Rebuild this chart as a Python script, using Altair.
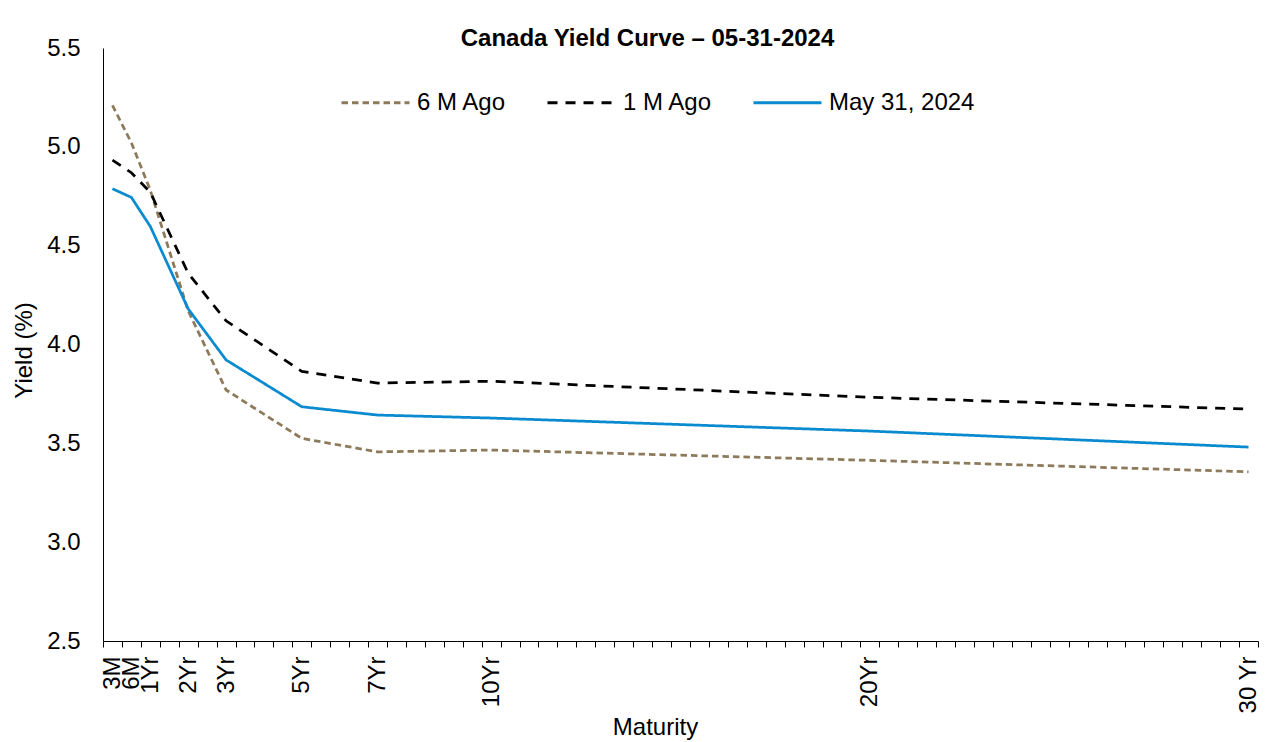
import altair as alt
import pandas as pd

# ---- data ----
maturities = ["3M", "6M", "1Yr", "2Yr", "3Yr", "5Yr", "7Yr", "10Yr", "20Yr", "30 Yr"]
# index on the half-year category axis (61 categories, 3M first)
slots = [0, 1, 2, 4, 6, 10, 14, 20, 40, 60]
n_slots = 61
series_names = ["6 M Ago", "1 M Ago", "May 31, 2024"]
six_m_ago = [5.21, 5.02, 4.78, 4.17, 3.77, 3.525, 3.457, 3.466, 3.414, 3.356]
one_m_ago = [4.933, 4.869, 4.77, 4.36, 4.12, 3.864, 3.805, 3.814, 3.733, 3.673]
may_31_2024 = [4.788, 4.744, 4.597, 4.18, 3.922, 3.685, 3.643, 3.628, 3.562, 3.481]
y_ticks = [2.5, 3.0, 3.5, 4.0, 4.5, 5.0, 5.5]

colors = ["#8C7A5B", "#000000", "#0A8BCF"]
dashes = [[6.5, 4], [10, 8], [1, 0]]
FONT = "Liberation Sans"

rows = []
for name, vals in zip(series_names, [six_m_ago, one_m_ago, may_31_2024]):
    for m, s, v in zip(maturities, slots, vals):
        rows.append({"Series": name, "Maturity": m, "slot": s, "Yield": v})
df = pd.DataFrame(rows)

# tick marks sit on category boundaries; labels are shifted to category centres
boundaries = [i - 0.5 for i in range(n_slots + 1)]
expr = "''"
for m, s in reversed(list(zip(maturities, slots))):
    expr = f"datum.value == {s - 0.5} ? '{m}' : ({expr})"

legend_kw = dict(
    title=None, orient="none", legendX=237, legendY=19, direction="horizontal",
    symbolType="stroke", symbolSize=4624, symbolStrokeWidth=3,
    labelFontSize=24, labelFont=FONT, labelColor="black",
    columnPadding=34, labelOffset=6, padding=0,
)

chart = alt.Chart(df).mark_line(strokeWidth=2.75).encode(
    x=alt.X(
        "slot:Q",
        scale=alt.Scale(domain=[-0.5, n_slots - 0.5], nice=False, zero=False),
        axis=alt.Axis(
            title="Maturity", values=boundaries, labelExpr=expr,
            labelAngle=-90, labelAlign="right", labelBaseline="middle",
            labelOffset=9.47, labelPadding=9, tickSize=6, ticks=True,
            tickColor="black", domainColor="black", grid=False,
            labelOverlap=False, labelFlush=False, labelBound=False,
            labelFontSize=24, labelFont=FONT, labelColor="black",
            titleFontSize=24, titleFont=FONT, titleFontWeight="normal",
            titleColor="black", titlePadding=2, titleX=552,
        ),
    ),
    y=alt.Y(
        "Yield:Q",
        scale=alt.Scale(domain=[2.5, 5.5], nice=False, zero=False),
        axis=alt.Axis(
            title="Yield (%)", values=y_ticks, format=".1f",
            ticks=False, tickSize=0, labelPadding=23, grid=False,
            domainColor="black", labelFontSize=24, labelFont=FONT,
            labelColor="black", titleFontSize=24, titleFont=FONT,
            titleFontWeight="normal", titleColor="black", titlePadding=10,
            titleY=302,
        ),
    ),
    color=alt.Color(
        "Series:N", sort=series_names,
        scale=alt.Scale(domain=series_names, range=colors),
        legend=alt.Legend(**legend_kw),
    ),
    strokeDash=alt.StrokeDash(
        "Series:N", sort=series_names,
        scale=alt.Scale(domain=series_names, range=dashes),
        legend=alt.Legend(**legend_kw),
    ),
).properties(
    width=1155,
    height=593,
    title=alt.TitleParams(
        "Canada Yield Curve –  05-31-2024", anchor="middle", frame="group",
        dx=-33, offset=-15, fontSize=24, fontWeight="bold", font=FONT,
        color="black",
    ),
    autosize=alt.AutoSizeParams(type="none"),
    padding={"left": 95, "top": 40, "right": 2, "bottom": 101},
    background="white",
).configure_view(stroke=None)

chart.save("out.html", embed_options={"renderer": "svg", "actions": False})
